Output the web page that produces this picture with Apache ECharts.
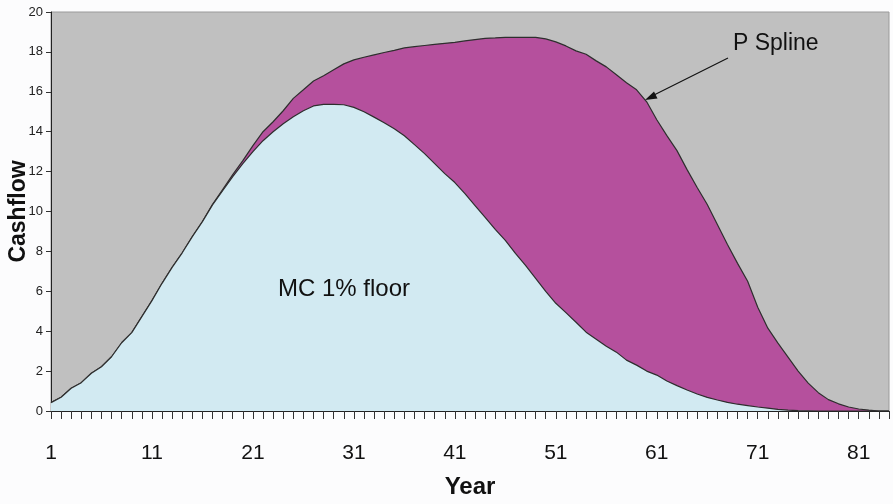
<!DOCTYPE html>
<html>
<head>
<meta charset="utf-8">
<script src="https://cdn.jsdelivr.net/npm/echarts@6/dist/echarts.min.js"></script>
<style>
html,body{margin:0;padding:0;background:#fcfcfd;}
#main{width:893px;height:504px;}
</style>
</head>
<body>
<div id="main"></div>
<script>
// Years 1..84
const years = [];
for (let i = 1; i <= 84; i++) years.push(String(i));

const mcFloor = [
  0.42, 0.69, 1.14, 1.42, 1.89, 2.22, 2.72, 3.42, 3.93, 4.73,
  5.53, 6.40, 7.20, 7.93, 8.74, 9.49, 10.33, 11.04, 11.75, 12.40,
  13.00, 13.55, 14.00, 14.40, 14.75, 15.05, 15.29, 15.37, 15.37, 15.35,
  15.22, 15.00, 14.73, 14.45, 14.15, 13.80, 13.35, 12.90, 12.40, 11.90,
  11.45, 10.90, 10.30, 9.70, 9.10, 8.55, 7.90, 7.30, 6.65, 6.00,
  5.40, 4.93, 4.45, 3.95, 3.60, 3.25, 2.95, 2.55, 2.30, 2.00,
  1.80, 1.50, 1.27, 1.05, 0.85, 0.68, 0.55, 0.43, 0.34, 0.27,
  0.20, 0.14, 0.08, 0.04, 0.02, 0.01, 0, 0, 0, 0,
  0, 0, 0, 0
];

const pSpline = [
  0.42, 0.69, 1.14, 1.42, 1.89, 2.22, 2.72, 3.42, 3.93, 4.73,
  5.53, 6.40, 7.20, 7.93, 8.74, 9.49, 10.36, 11.10, 11.85, 12.55,
  13.30, 14.00, 14.50, 15.05, 15.67, 16.10, 16.54, 16.80, 17.10, 17.40,
  17.60, 17.73, 17.85, 17.97, 18.08, 18.20, 18.26, 18.32, 18.38, 18.43,
  18.48, 18.55, 18.62, 18.68, 18.70, 18.73, 18.73, 18.73, 18.73, 18.65,
  18.50, 18.30, 18.05, 17.88, 17.55, 17.25, 16.85, 16.45, 16.10, 15.50,
  14.60, 13.80, 13.05, 12.10, 11.20, 10.35, 9.35, 8.35, 7.40, 6.50,
  5.20, 4.15, 3.40, 2.70, 2.00, 1.40, 0.92, 0.57, 0.36, 0.20,
  0.10, 0.04, 0, 0
];

const chart = echarts.init(document.getElementById('main'));
const font = 'Liberation Sans, Arial, sans-serif';

chart.setOption({
  animation: false,
  backgroundColor: '#fcfcfd',
  grid: {
    left: 51, right: 4, top: 12, bottom: 93,
    containLabel: false, outerBoundsMode: 'none',
    show: true, backgroundColor: '#c0c0c0', borderColor: '#9a9a9a', borderWidth: 1
  },
  xAxis: {
    type: 'category',
    data: years,
    boundaryGap: false,
    name: 'Year',
    nameLocation: 'middle',
    nameGap: 64,
    nameMoveOverlap: false,
    nameTextStyle: { fontFamily: font, fontSize: 24, fontWeight: 'bold', color: '#111' },
    axisLine: { lineStyle: { color: '#222', width: 1 } },
    axisTick: { show: true, interval: 0, length: 8, lineStyle: { color: '#333' } },
    axisLabel: { interval: 9, fontFamily: font, fontSize: 21, color: '#111', margin: 32 },
    splitLine: { show: false }
  },
  yAxis: {
    type: 'value',
    min: 0, max: 20, interval: 2,
    name: 'Cashflow',
    nameLocation: 'middle',
    nameGap: 21,
    nameMoveOverlap: false,
    nameRotate: 90,
    nameTextStyle: { fontFamily: font, fontSize: 23, fontWeight: 'bold', color: '#111' },
    axisLine: { show: true, lineStyle: { color: '#222', width: 1 } },
    axisTick: { show: true, length: 5, lineStyle: { color: '#333' } },
    axisLabel: { fontFamily: font, fontSize: 13, color: '#222', margin: 8 },
    splitLine: { show: false }
  },
  series: [
    {
      name: 'P Spline',
      type: 'line',
      data: pSpline,
      symbol: 'none',
      lineStyle: { color: '#2e2e2e', width: 1.2 },
      areaStyle: { color: '#b5509d', opacity: 1 },
      z: 2
    },
    {
      name: 'MC 1% floor',
      type: 'line',
      data: mcFloor,
      symbol: 'none',
      lineStyle: { color: '#2e2e2e', width: 1.2 },
      areaStyle: { color: '#d2eaf2', opacity: 1 },
      z: 3
    }
  ],
  graphic: [
    {
      type: 'text', left: 278, top: 277, z: 10,
      style: { text: 'MC 1% floor', font: '24px ' + font, fill: '#111' }
    },
    {
      type: 'text', left: 733, top: 32, z: 10,
      style: { text: 'P Spline', font: '23px ' + font, fill: '#111' }
    },
    {
      type: 'line', z: 10,
      shape: { x1: 728, y1: 58, x2: 650, y2: 97 },
      style: { stroke: '#111', lineWidth: 1.2 }
    },
    {
      type: 'polygon', z: 10,
      shape: { points: [[645, 100], [654, 91.5], [657.5, 98.5]] },
      style: { fill: '#111' }
    }
  ]
});
</script>
</body>
</html>
